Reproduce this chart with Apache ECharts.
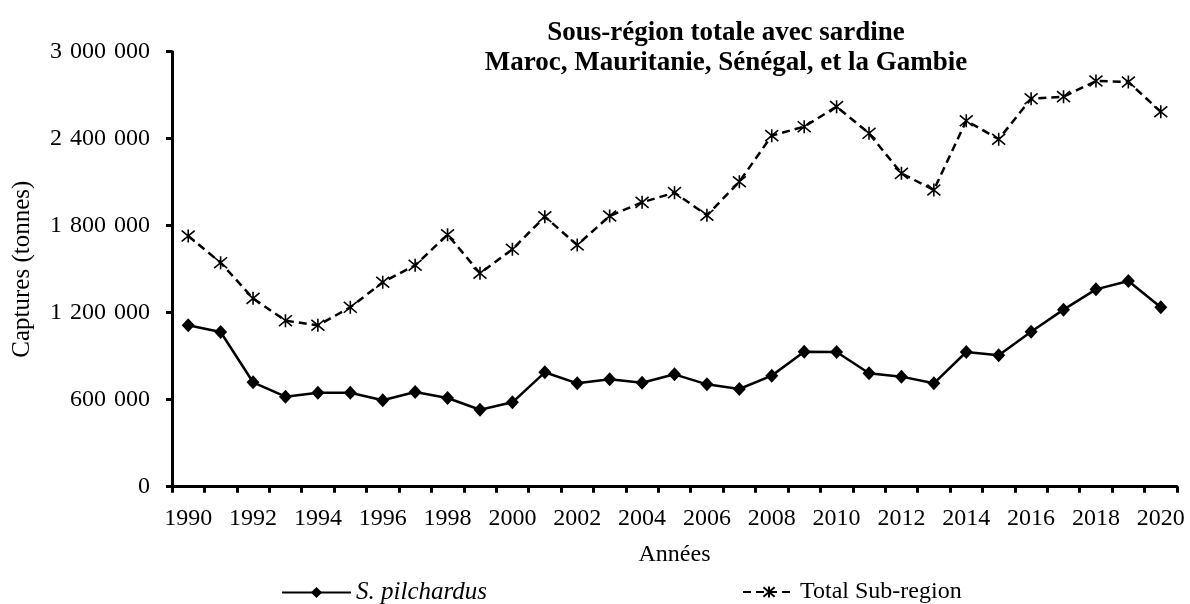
<!DOCTYPE html>
<html>
<head>
<meta charset="utf-8">
<script src="https://cdn.jsdelivr.net/npm/echarts@6/dist/echarts.min.js"></script>
<style>
  html, body { margin: 0; padding: 0; background: #fff; }
  #chart { width: 1190px; height: 604px; }
</style>
</head>
<body>
<div id="chart"></div>
<script>
// données
const years = ["1990", "1991", "1992", "1993", "1994", "1995", "1996", "1997", "1998", "1999",
  "2000", "2001", "2002", "2003", "2004", "2005", "2006", "2007", "2008", "2009",
  "2010", "2011", "2012", "2013", "2014", "2015", "2016", "2017", "2018", "2019", "2020"];

const sardine = [1113000, 1067000, 720000, 621000, 648000, 648000, 596000, 653000, 612000, 531000,
  582000, 789000, 713000, 741000, 717000, 775000, 706000, 674000, 766000, 931000,
  929000, 782000, 759000, 713000, 929000, 906000, 1069000, 1221000, 1361000, 1419000, 1237000];

const total = [1729000, 1545000, 1299000, 1145000, 1113000, 1237000, 1410000, 1527000, 1738000, 1472000,
  1637000, 1862000, 1667000, 1867000, 1961000, 2028000, 1872000, 2103000, 2421000, 2483000,
  2621000, 2437000, 2161000, 2046000, 2524000, 2396000, 2676000, 2690000, 2798000, 2791000, 2586000];

const seriesNames = ["S. pilchardus", "Total Sub-region"];

const font = "Liberation Serif";
const chart = echarts.init(document.getElementById("chart"));

// séparateur de milliers avec espace
function fmt(v) {
  return String(v).replace(/\B(?=(\d{3})+(?!\d))/g, "\u2004");
}

const starPath = "path://M0,0L10,10M10,0L0,10M5,-1L5,11";

chart.setOption({
  animation: false,
  textStyle: { fontFamily: font, color: "#000" },
  title: {
    text: "Sous-région totale avec sardine\nMaroc, Mauritanie, Sénégal, et la Gambie",
    left: 721,
    top: 13,
    textAlign: "center",
    textStyle: { fontFamily: font, fontSize: 27, fontWeight: "bold", lineHeight: 30, color: "#000" },
  },
  legend: [
    {
      data: [seriesNames[0]],
      left: 276,
      top: 575,
      itemWidth: 69,
      itemHeight: 14,
      itemGap: 5,
      textStyle: { fontFamily: font, fontSize: 25, fontStyle: "italic", color: "#000" },
    },
    {
      data: [seriesNames[1]],
      left: 737,
      top: 575,
      itemWidth: 52,
      itemHeight: 14,
      itemGap: 5,
      textStyle: { fontFamily: font, fontSize: 24, color: "#000" },
    },
  ],
  grid: { left: 172, right: 13, top: 51.7, bottom: 117.3, containLabel: false, outerBoundsMode: "none" },
  xAxis: {
    type: "category",
    data: years,
    boundaryGap: true,
    name: "Années",
    nameLocation: "middle",
    nameGap: 56,
    nameTextStyle: { fontFamily: font, fontSize: 24, color: "#000" },
    axisLine: { lineStyle: { color: "#000", width: 3 } },
    axisTick: { show: true, interval: 0, length: 6, lineStyle: { color: "#000", width: 3 } },
    axisLabel: { interval: 1, margin: 20, fontFamily: font, fontSize: 24, color: "#000" },
    splitLine: { show: false },
  },
  yAxis: {
    type: "value",
    min: 0,
    max: 3000000,
    interval: 600000,
    name: "Captures (tonnes)",
    nameLocation: "middle",
    nameGap: 137,
    nameTextStyle: { fontFamily: font, fontSize: 25, color: "#000" },
    axisLine: { show: true, lineStyle: { color: "#000", width: 3 } },
    axisTick: { show: true, length: 6, lineStyle: { color: "#000", width: 3 } },
    axisLabel: { margin: 22, fontFamily: font, fontSize: 24, color: "#000", formatter: fmt },
    splitLine: { show: false },
  },
  series: [
    {
      name: seriesNames[0],
      type: "line",
      data: sardine,
      symbol: "diamond",
      symbolSize: [13, 14],
      showAllSymbol: true,
      lineStyle: { color: "#000", width: 2.5 },
      itemStyle: { color: "#000" },
    },
    {
      name: seriesNames[1],
      type: "line",
      data: total,
      symbol: starPath,
      symbolSize: 13,
      showAllSymbol: true,
      lineStyle: { color: "#000", width: 2.5, type: [8, 5] },
      itemStyle: { color: "#000", borderColor: "#000", borderWidth: 1.6 },
    },
  ],
});
</script>
</body>
</html>
